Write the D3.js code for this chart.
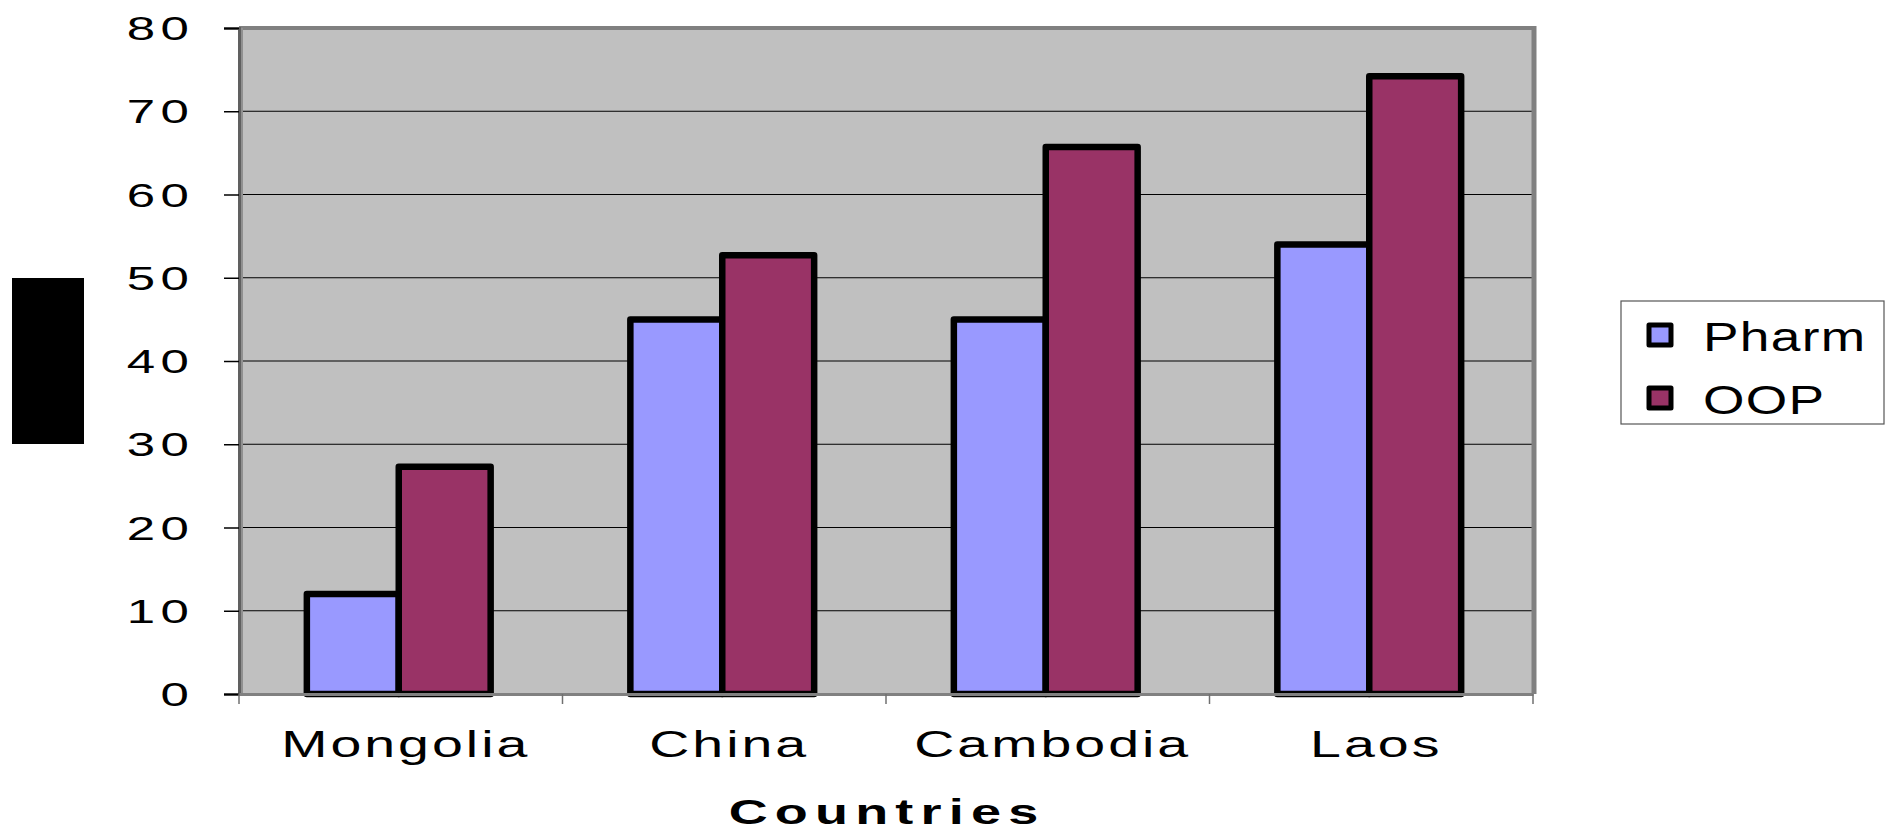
<!DOCTYPE html>
<html>
<head>
<meta charset="utf-8">
<script src="https://cdn.jsdelivr.net/npm/d3@7"></script>
<style>
  html, body { margin: 0; padding: 0; background: #ffffff; }
  svg { display: block; }
  text { font-family: "Liberation Sans", Arial, sans-serif; fill: #000; }
</style>
</head>
<body>
<svg id="chart" width="1888" height="831"></svg>
<script>
const categories = ["Mongolia", "China", "Cambodia", "Laos"];
const seriesNames = ["Pharm", "OOP"];
const pharmValues = [12, 45, 45, 54];
const oopValues = [27.3, 52.7, 65.7, 74.2];
const yTicks = [0, 10, 20, 30, 40, 50, 60, 70, 80];
const xTitle = "Countries";
const colors = ["#9999FF", "#993366"];

const W = 1888, H = 831;
const plot = { left: 239, right: 1533, top: 28, bottom: 694 };
const SX = 1.5; // horizontal stretch of text in the original

const svg = d3.select("#chart");

const x0 = d3.scaleBand().domain(categories).range([plot.left, plot.right]).padding(0);
const x1 = d3.scaleBand().domain(seriesNames).range([0, x0.bandwidth()]).paddingInner(0).paddingOuter(0.76);
const y = d3.scaleLinear().domain([0, 80]).range([plot.bottom, plot.top]);
const color = d3.scaleOrdinal().domain(seriesNames).range(colors);

const data = categories.map((c, i) => ({ cat: c, values: [
  { key: "Pharm", value: pharmValues[i] },
  { key: "OOP", value: oopValues[i] }
]}));

// plot background
svg.append("rect")
  .attr("x", plot.left).attr("y", plot.top)
  .attr("width", plot.right - plot.left).attr("height", plot.bottom - plot.top)
  .attr("fill", "#C0C0C0");

// gridlines
svg.append("g")
  .selectAll("line").data(yTicks.filter(t => t > 0 && t < 80)).join("line")
  .attr("x1", plot.left).attr("x2", plot.right)
  .attr("y1", d => y(d)).attr("y2", d => y(d))
  .attr("stroke", "#000").attr("stroke-width", 1.2);

// plot border (top and right gray)
svg.append("line").attr("x1", plot.left).attr("x2", plot.right + 3)
  .attr("y1", plot.top).attr("y2", plot.top).attr("stroke", "#808080").attr("stroke-width", 4);
svg.append("line").attr("x1", plot.right + 1).attr("x2", plot.right + 1)
  .attr("y1", plot.top - 2).attr("y2", plot.bottom).attr("stroke", "#808080").attr("stroke-width", 5);

// bars
const groups = svg.append("g").selectAll("g").data(data).join("g")
  .attr("transform", d => `translate(${x0(d.cat) - 2},0)`);
groups.selectAll("rect").data(d => d.values).join("rect")
  .attr("x", d => x1(d.key))
  .attr("y", d => y(d.value))
  .attr("width", x1.bandwidth())
  .attr("height", d => y(0) - y(d.value))
  .attr("fill", d => color(d.key))
  .attr("stroke", "#000").attr("stroke-width", 6.5)
  .attr("stroke-linejoin", "round");

// y axis
const yAxis = svg.append("g").attr("transform", `translate(${plot.left},0)`)
  .call(d3.axisLeft(y).tickValues(yTicks).tickSize(15).tickFormat(""));
yAxis.select(".domain").attr("stroke", "#606060").attr("stroke-width", 3);
yAxis.selectAll(".tick line").attr("stroke", "#000").attr("stroke-width", 1.5);
svg.append("line").attr("x1", plot.left + 3).attr("x2", plot.left + 3)
  .attr("y1", plot.top).attr("y2", plot.bottom).attr("stroke", "#909090").attr("stroke-width", 2);

// y tick labels (stretched)
svg.append("g").selectAll("g").data(yTicks).join("g")
  .attr("transform", d => `translate(194,${y(d) + 12}) scale(${SX},1)`)
  .append("text")
  .attr("text-anchor", "end")
  .attr("font-size", 34)
  .attr("letter-spacing", 3.5)
  .text(d => d);

// x axis
const xAxis = svg.append("g").attr("transform", `translate(0,${plot.bottom})`)
  .call(d3.axisBottom(x0).tickSize(0).tickFormat(""));
xAxis.select(".domain").attr("stroke", "#808080").attr("stroke-width", 3);
xAxis.selectAll(".tick").remove();
const bounds = categories.map(c => x0(c)).concat([x0(categories[categories.length - 1]) + x0.bandwidth()]);
svg.append("g").selectAll("line").data(bounds).join("line")
  .attr("x1", d => d).attr("x2", d => d)
  .attr("y1", plot.bottom).attr("y2", plot.bottom + 10)
  .attr("stroke", "#707070").attr("stroke-width", 1.5);

// category labels
svg.append("g").selectAll("g").data(categories).join("g")
  .attr("transform", d => `translate(${x0(d) + x0.bandwidth() / 2 + 5},757) scale(${SX},1)`)
  .append("text")
  .attr("text-anchor", "middle")
  .attr("font-size", 37)
  .attr("letter-spacing", 2)
  .text(d => d);

// x axis title
svg.append("g").attr("transform", `translate(${(plot.left + plot.right) / 2 + 1},824) scale(${SX},1)`)
  .append("text")
  .attr("text-anchor", "middle")
  .attr("font-size", 36)
  .attr("font-weight", "bold")
  .attr("letter-spacing", 4.8)
  .text(xTitle);

// black block (y-axis title placeholder)
svg.append("rect").attr("x", 12).attr("y", 278).attr("width", 72).attr("height", 166).attr("fill", "#000");

// legend
const lg = svg.append("g").attr("transform", "translate(1621,301)");
lg.append("rect").attr("width", 263).attr("height", 123)
  .attr("fill", "#fff").attr("stroke", "#555").attr("stroke-width", 1.2);
const items = lg.selectAll("g").data(seriesNames).join("g")
  .attr("transform", (d, i) => `translate(0,${30 + i * 63})`);
items.append("rect")
  .attr("x", 28).attr("y", -6).attr("width", 22).attr("height", 20)
  .attr("fill", d => color(d)).attr("stroke", "#000").attr("stroke-width", 5)
  .attr("stroke-linejoin", "round");
items.append("g").attr("transform", "translate(82,20) scale(1.3,1)")
  .append("text").attr("font-size", 41).attr("letter-spacing", 1)
  .text(d => d);
</script>
</body>
</html>
